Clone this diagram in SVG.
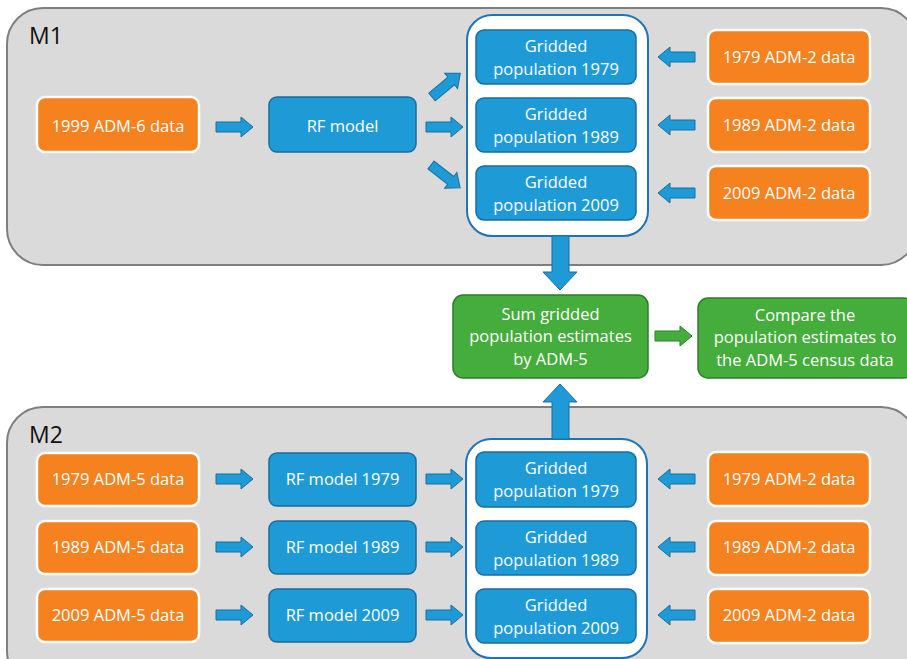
<svg xmlns="http://www.w3.org/2000/svg" width="907" height="659" viewBox="0 0 907 659">
<style>
.panel{fill:#dadada;stroke:#7f7f7f;stroke-width:2}
.cont{fill:#ffffff;stroke:#1f73b7;stroke-width:2}
.org{fill:#f5821f;stroke:#ffffff;stroke-width:2.5}
.blu{fill:#1e9bd7;stroke:#1a6e9e;stroke-width:1.5}
.grn{fill:#45ad3c;stroke:#2e7d2e;stroke-width:1.5}
.arr{fill:#1e9bd7;stroke:#1a6e9e;stroke-width:1}
.garr{fill:#45ad3c;stroke:#2e7d2e;stroke-width:1}
text{font-family:"Open Sans","Liberation Sans",sans-serif;font-size:16.5px;fill:#ffffff;text-anchor:middle}
.lbl{font-size:23px;fill:#111111;text-anchor:start}
</style>
<defs>
<path id="ha" d="M0,-5 H25 V-10 L37,0 L25,10 V5 H0 Z"/>
</defs>
<g id="panel-m1"><rect class="panel" x="7" y="8" width="910" height="257" rx="36"/><text class="lbl" x="29" y="44">M1</text></g>
<g id="panel-m2"><rect class="panel" x="7" y="407" width="910" height="280" rx="36"/><text class="lbl" x="29" y="443">M2</text></g>
<g id="container-m1"><rect class="cont" x="467" y="15" width="181" height="221" rx="25"/></g>
<g id="container-m2"><rect class="cont" x="466" y="439" width="181" height="219" rx="25"/></g>
<g id="connectors">
<use href="#ha" class="arr" transform="translate(216,127)"/>
<use href="#ha" class="arr" transform="translate(432,97) rotate(-40)"/>
<use href="#ha" class="arr" transform="translate(426,127)"/>
<use href="#ha" class="arr" transform="translate(431,165) rotate(38)"/>
<use href="#ha" class="arr" transform="translate(695,57) rotate(180)"/>
<use href="#ha" class="arr" transform="translate(695,125) rotate(180)"/>
<use href="#ha" class="arr" transform="translate(695,193) rotate(180)"/>
<path class="arr" d="M552,236 H569 V272 H577 L560,290 L543,272 H552 Z"/>
<path class="arr" d="M552,439 H569 V402 H577 L560,384 L543,402 H552 Z"/>
<use href="#ha" class="garr" transform="translate(655,336)"/>
<use href="#ha" class="arr" transform="translate(216,479)"/>
<use href="#ha" class="arr" transform="translate(216,547)"/>
<use href="#ha" class="arr" transform="translate(216,615)"/>
<use href="#ha" class="arr" transform="translate(426,479)"/>
<use href="#ha" class="arr" transform="translate(426,547)"/>
<use href="#ha" class="arr" transform="translate(426,615)"/>
<use href="#ha" class="arr" transform="translate(695,479) rotate(180)"/>
<use href="#ha" class="arr" transform="translate(695,547) rotate(180)"/>
<use href="#ha" class="arr" transform="translate(695,615) rotate(180)"/>
</g>
<g id="m1-adm6"><rect class="org" x="37" y="97" width="162" height="55" rx="8"/><text x="118" y="132">1999 ADM-6 data</text></g>
<g id="m1-rf"><rect class="blu" x="269" y="97" width="147" height="55" rx="8"/><text x="342.5" y="132">RF model</text></g>
<g id="m1-g1979"><rect class="blu" x="476" y="30" width="160" height="54" rx="8"/><text x="556" y="52">Gridded</text><text x="556" y="75">population 1979</text></g>
<g id="m1-g1989"><rect class="blu" x="476" y="98" width="160" height="54" rx="8"/><text x="556" y="120">Gridded</text><text x="556" y="143">population 1989</text></g>
<g id="m1-g2009"><rect class="blu" x="476" y="166" width="160" height="54" rx="8"/><text x="556" y="188">Gridded</text><text x="556" y="211">population 2009</text></g>
<g id="m1-a1979"><rect class="org" x="708" y="30" width="162" height="54" rx="8"/><text x="789" y="63">1979 ADM-2 data</text></g>
<g id="m1-a1989"><rect class="org" x="708" y="98" width="162" height="54" rx="8"/><text x="789" y="131">1989 ADM-2 data</text></g>
<g id="m1-a2009"><rect class="org" x="708" y="166" width="162" height="54" rx="8"/><text x="789" y="199">2009 ADM-2 data</text></g>
<g id="sum"><rect class="grn" x="453" y="295" width="195" height="83" rx="10"/><text x="550.5" y="320">Sum gridded</text><text x="550.5" y="342">population estimates</text><text x="550.5" y="365">by ADM-5</text></g>
<g id="compare"><rect class="grn" x="698" y="298" width="216" height="80" rx="10"/><text x="805" y="321">Compare the</text><text x="805" y="343">population estimates to</text><text x="805" y="366">the ADM-5 census data</text></g>
<g id="m2-adm5-1979"><rect class="org" x="37" y="453" width="162" height="53" rx="8"/><text x="118" y="485">1979 ADM-5 data</text></g>
<g id="m2-adm5-1989"><rect class="org" x="37" y="521" width="162" height="53" rx="8"/><text x="118" y="553">1989 ADM-5 data</text></g>
<g id="m2-adm5-2009"><rect class="org" x="37" y="589" width="162" height="53" rx="8"/><text x="118" y="621">2009 ADM-5 data</text></g>
<g id="m2-rf1979"><rect class="blu" x="269" y="453" width="147" height="53" rx="8"/><text x="342.5" y="485">RF model 1979</text></g>
<g id="m2-rf1989"><rect class="blu" x="269" y="521" width="147" height="53" rx="8"/><text x="342.5" y="553">RF model 1989</text></g>
<g id="m2-rf2009"><rect class="blu" x="269" y="589" width="147" height="53" rx="8"/><text x="342.5" y="621">RF model 2009</text></g>
<g id="m2-g1979"><rect class="blu" x="476" y="452" width="160" height="55" rx="8"/><text x="556" y="474">Gridded</text><text x="556" y="497">population 1979</text></g>
<g id="m2-g1989"><rect class="blu" x="476" y="521" width="160" height="54" rx="8"/><text x="556" y="543">Gridded</text><text x="556" y="566">population 1989</text></g>
<g id="m2-g2009"><rect class="blu" x="476" y="589" width="160" height="54" rx="8"/><text x="556" y="611">Gridded</text><text x="556" y="634">population 2009</text></g>
<g id="m2-a1979"><rect class="org" x="708" y="452" width="162" height="54" rx="8"/><text x="789" y="485">1979 ADM-2 data</text></g>
<g id="m2-a1989"><rect class="org" x="708" y="521" width="162" height="54" rx="8"/><text x="789" y="553">1989 ADM-2 data</text></g>
<g id="m2-a2009"><rect class="org" x="708" y="589" width="162" height="54" rx="8"/><text x="789" y="621">2009 ADM-2 data</text></g>
</svg>
